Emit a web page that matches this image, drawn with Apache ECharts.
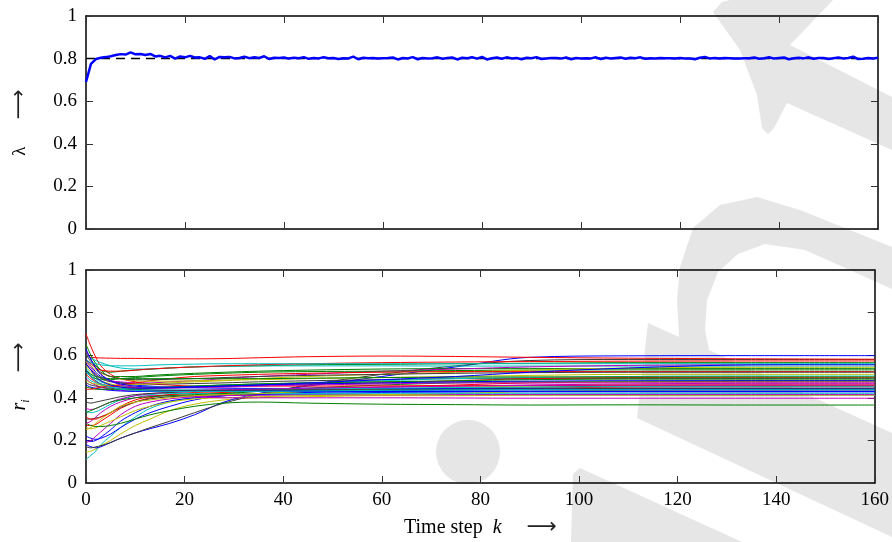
<!DOCTYPE html>
<html><head><meta charset="utf-8">
<script src="https://cdn.jsdelivr.net/npm/echarts@6/dist/echarts.min.js"></script>
<style>html,body{margin:0;padding:0;background:#fff}#c{width:892px;height:542px}</style>
</head><body><div id="c"></div>
<script>
// ---------- DATA ----------
const xTicks = [0, 20, 40, 60, 80, 100, 120, 140, 160];
const yTicks = [0, 0.2, 0.4, 0.6, 0.8, 1];
const lambdaTrue = 0.8;
const lambdaEst = [
.690,.775,.798,.804,.807,.811,.817,.821,.819,.829,
.820,.822,.817,.822,.810,.813,.806,.813,.800,.810,
.806,.813,.805,.806,.799,.812,.796,.808,.806,.808,
.801,.803,.809,.802,.806,.803,.811,.798,.804,.803,
.805,.800,.804,.802,.807,.799,.803,.801,.806,.802,
.803,.798,.802,.801,.809,.797,.804,.802,.803,.801,
.802,.803,.805,.796,.803,.801,.807,.797,.803,.801,
.802,.806,.799,.803,.805,.796,.804,.802,.806,.800,
.808,.796,.802,.805,.799,.806,.801,.803,.797,.804,
.802,.807,.798,.801,.803,.803,.800,.805,.797,.803,
.801,.802,.801,.806,.798,.804,.801,.803,.805,.799,
.804,.802,.806,.799,.802,.801,.803,.802,.802,.801,
.803,.800,.801,.797,.804,.808,.801,.803,.800,.803,
.802,.801,.801,.802,.802,.805,.799,.802,.806,.800,
.803,.805,.797,.802,.804,.801,.806,.799,.803,.803,
.798,.802,.805,.801,.803,.809,.798,.799,.803,.800,
.804];

// time steps at which each r_i trajectory was read
const rSteps = [0,1,2,3,5,7,10,13,17,22,28,35,45,60,75,90,110,135,160];
// low-start trajectories
const r01 = [.11,.13,.15,.18,.22,.26,.31,.35,.38,.40,.41,.413,.415,.415,.414,.414,.413,.413,.413];
const r02 = [.145,.15,.16,.175,.20,.23,.27,.30,.34,.37,.39,.40,.405,.41,.41,.412,.412,.412,.412];
const r03 = [.18,.17,.165,.17,.19,.21,.235,.255,.28,.32,.38,.42,.455,.50,.545,.59,.597,.598,.598];
const r04 = [.17,.165,.17,.175,.19,.21,.235,.26,.29,.33,.375,.415,.46,.51,.55,.575,.58,.58,.58];
const r05 = [.22,.21,.205,.21,.23,.26,.30,.33,.36,.39,.41,.42,.425,.43,.43,.43,.431,.43,.43];
const r06 = [.20,.195,.20,.215,.25,.29,.33,.36,.385,.40,.41,.415,.42,.425,.427,.428,.428,.428,.428];
const r07 = [.19,.20,.22,.24,.28,.32,.36,.38,.395,.405,.41,.412,.413,.414,.415,.415,.415,.415,.415];
const r08 = [.26,.255,.26,.27,.29,.31,.34,.36,.38,.395,.40,.405,.41,.415,.42,.43,.435,.437,.437];
const r09 = [.27,.27,.275,.29,.32,.35,.38,.40,.415,.425,.43,.433,.435,.437,.44,.445,.45,.452,.452];
const r10 = [.28,.27,.265,.265,.27,.28,.30,.32,.34,.36,.375,.38,.375,.37,.368,.366,.367,.366,.366];
const r11 = [.28,.29,.31,.33,.36,.38,.40,.41,.41,.405,.40,.40,.40,.40,.399,.398,.398,.398,.398];
const r12 = [.30,.30,.305,.31,.33,.355,.38,.395,.405,.41,.415,.42,.43,.44,.445,.45,.455,.457,.457];
const r13 = [.31,.30,.30,.31,.33,.36,.39,.405,.415,.42,.425,.43,.44,.45,.46,.47,.475,.477,.478];
const r14 = [.34,.33,.335,.345,.37,.39,.41,.415,.42,.42,.42,.42,.42,.421,.421,.421,.421,.421,.421];
const r15 = [.35,.345,.35,.36,.38,.395,.41,.42,.425,.43,.435,.44,.445,.45,.455,.46,.465,.468,.468];
const r16 = [.38,.375,.38,.385,.395,.405,.415,.42,.425,.43,.435,.44,.44,.44,.44,.44,.44,.44,.44];
const r17 = [.33,.34,.35,.36,.38,.39,.40,.405,.41,.415,.42,.43,.445,.46,.47,.475,.478,.48,.48];
const r18 = [.25,.26,.28,.30,.33,.36,.38,.39,.40,.41,.415,.42,.43,.44,.45,.455,.46,.46,.46];
// high / mid-start trajectories
const r19 = [.70,.64,.59,.55,.51,.49,.475,.465,.46,.455,.455,.455,.455,.456,.457,.458,.459,.46,.46];
const r20 = [.595,.59,.588,.587,.586,.585,.585,.584,.583,.583,.584,.588,.593,.596,.594,.59,.586,.583,.581];
const r21 = [.65,.60,.56,.53,.50,.50,.50,.505,.51,.515,.52,.525,.53,.535,.537,.537,.537,.537,.537];
const r22 = [.62,.58,.55,.53,.52,.525,.53,.535,.54,.545,.548,.55,.555,.557,.56,.562,.565,.565,.565];
const r23 = [.60,.585,.575,.565,.55,.54,.535,.535,.54,.545,.548,.55,.55,.55,.549,.549,.549,.549,.549];
const r24 = [.58,.55,.52,.50,.48,.47,.46,.455,.45,.447,.445,.444,.444,.444,.444,.444,.444,.444,.444];
const r25 = [.57,.54,.51,.495,.48,.475,.47,.47,.475,.48,.49,.50,.51,.525,.535,.545,.552,.555,.555];
const r26 = [.56,.53,.51,.49,.475,.47,.465,.465,.465,.467,.47,.475,.48,.485,.49,.49,.49,.49,.49];
const r27 = [.55,.52,.50,.48,.465,.455,.45,.45,.452,.455,.46,.465,.47,.475,.475,.475,.474,.474,.474];
const r28 = [.54,.51,.49,.475,.46,.455,.45,.45,.45,.455,.46,.465,.47,.48,.49,.495,.50,.502,.502];
const r29 = [.53,.50,.48,.465,.45,.44,.435,.433,.432,.432,.432,.433,.434,.435,.436,.437,.437,.437,.437];
const r30 = [.52,.50,.49,.485,.485,.49,.495,.50,.505,.51,.515,.52,.523,.525,.528,.53,.531,.531,.531];
const r31 = [.51,.49,.475,.465,.455,.45,.447,.446,.447,.45,.455,.46,.465,.47,.48,.49,.495,.496,.496];
const r32 = [.50,.48,.47,.46,.45,.445,.44,.438,.437,.437,.438,.44,.442,.445,.448,.45,.452,.452,.452];
const r33 = [.49,.47,.46,.45,.44,.435,.432,.432,.433,.435,.438,.44,.445,.45,.455,.458,.46,.46,.46];
const r34 = [.48,.47,.465,.46,.46,.46,.462,.465,.47,.475,.48,.49,.50,.51,.52,.53,.54,.543,.543];
const r35 = [.47,.46,.455,.45,.445,.44,.438,.436,.435,.435,.435,.436,.437,.438,.44,.442,.444,.445,.445];
const r36 = [.46,.45,.445,.44,.435,.432,.43,.43,.43,.43,.43,.43,.43,.43,.43,.43,.43,.43,.43];
const r37 = [.45,.445,.44,.44,.44,.44,.442,.445,.45,.455,.46,.465,.47,.475,.48,.485,.488,.488,.488];
const r38 = [.44,.44,.445,.45,.455,.46,.47,.48,.49,.50,.505,.51,.515,.52,.523,.523,.523,.523,.523];
const r39 = [.52,.50,.48,.465,.45,.44,.435,.432,.43,.43,.43,.43,.432,.435,.437,.438,.438,.438,.438];
const r40 = [.62,.58,.54,.51,.48,.46,.45,.445,.445,.448,.45,.455,.46,.465,.47,.47,.47,.47,.47];
const r41 = [.57,.55,.53,.515,.50,.49,.48,.478,.478,.48,.483,.485,.49,.495,.50,.505,.51,.51,.51];
const r42 = [.60,.57,.54,.52,.50,.49,.485,.485,.487,.49,.495,.50,.505,.51,.515,.518,.52,.52,.52];
const r43 = [.56,.53,.50,.48,.46,.45,.445,.445,.447,.45,.455,.46,.465,.47,.475,.478,.48,.48,.48];
const r44 = [.58,.56,.54,.53,.525,.525,.53,.535,.54,.545,.55,.555,.56,.565,.568,.57,.572,.573,.573];
const r45 = [.53,.51,.50,.495,.49,.49,.49,.49,.49,.49,.49,.49,.492,.495,.497,.498,.498,.498,.498];
const r46 = [.63,.58,.54,.51,.48,.465,.455,.45,.45,.452,.455,.46,.47,.485,.50,.52,.54,.555,.557];
const r47 = [.58,.565,.56,.555,.55,.55,.55,.553,.556,.558,.56,.56,.56,.56,.56,.56,.56,.56,.56];

const rLines = [r01,r02,r03,r04,r05,r06,r07,r08,r09,r10,r11,r12,r13,r14,r15,r16,r17,r18,
  r19,r20,r21,r22,r23,r24,r25,r26,r27,r28,r29,r30,r31,r32,r33,r34,r35,r36,r37,r38,r39,r40,
  r41,r42,r43,r44,r45,r46,r47];
const rColorKeys = ['c','y','b','k','b','b','m','y','r','g','m','k','r','c','m','k','g','y',
  'r','r','g','g','c','b','m','k','y','c','b','g','r','c','m','y','k','b','g','r','c','m',
  'y','k','b','r','g','b','c'];

// ---------- STYLE ----------
const palette = {b:'#0000ff', g:'#008000', r:'#ff0000', c:'#00bfbf', m:'#bf00bf', y:'#bfbf00', k:'#3a3a3a'};
const FONT = 'Liberation Serif';
const WM = '#e6e6e6';

const series = [];
series.push({type:'line', xAxisIndex:0, yAxisIndex:0, showSymbol:false, silent:true,
  data:[[xTicks[0], lambdaTrue],[xTicks[xTicks.length-1], lambdaTrue]],
  lineStyle:{color:'#000', width:1.5, type:[9,6]}, z:3});
series.push({type:'line', xAxisIndex:0, yAxisIndex:0, showSymbol:false, silent:true,
  data: lambdaEst.map((v,k)=>[k,v]),
  lineStyle:{color:'#0000ff', width:2.5}, z:4});
rLines.forEach((arr,i)=>{
  series.push({type:'line', xAxisIndex:2, yAxisIndex:2, showSymbol:false, silent:true,
    smooth:0.35, data: arr.map((v,j)=>[rSteps[j], v]),
    lineStyle:{color: palette[rColorKeys[i]], width:1}, z:3});
});

function xAx(grid, pos, labels, extra){
  return Object.assign({type:'value', gridIndex:grid, position:pos, min:0, max:160, interval:20,
    axisLine:{show:true, onZero:false, lineStyle:{color:'#000', width:1.5}},
    axisTick:{show:true, inside:true, length:7, lineStyle:{color:'#333', width:1}},
    axisLabel:{show:labels, color:'#000', fontFamily:FONT, fontSize:19, margin:8},
    splitLine:{show:false}}, extra||{});
}
function yAx(grid, pos, labels, extra){
  return Object.assign({type:'value', gridIndex:grid, position:pos, min:0, max:1, interval:0.2,
    axisLine:{show:true, onZero:false, lineStyle:{color:'#000', width:1.5}},
    axisTick:{show:true, inside:true, length:7, lineStyle:{color:'#333', width:1}},
    axisLabel:{show:labels, color:'#000', fontFamily:FONT, fontSize:19, margin:9,
      formatter:v=> (v===0?'0':(v===1?'1':v.toFixed(1)))},
    splitLine:{show:false}}, extra||{});
}
const arrowStyle = {fontFamily:'DejaVu Sans', fontSize:21, lineHeight:24, verticalAlign:'middle', color:'#222'};

const option = {
  animation:false,
  backgroundColor:'#fff',
  graphic:{elements:[
    {type:'polygon', z:-1, silent:true, shape:{points:[[713,12],[722,2],[730,0],[833,0],[790,45],[892,97],[892,150],[787,103],[774,128],[768,134],[762,128],[757,95],[740,50]]}, style:{fill:WM}},
    {type:'polygon', z:-1, silent:true, shape:{points:[[648,323],[679,337],[677,300],[680,267],[693,228],[720,205],[757,197],[800,210],[892,247],[892,289],[805,250],[765,244],[738,254],[718,272],[707,300],[705,330],[709,350],[892,433],[892,537],[637,418]]}, style:{fill:WM}},
    {type:'circle', z:-1, silent:true, shape:{cx:468, cy:452, r:32}, style:{fill:WM}},
    {type:'polygon', z:-1, silent:true, shape:{points:[[573,474],[580,468],[742,542],[571,542]]}, style:{fill:WM}}
  ]},
  grid:[
    {left:86, right:14, top:16, height:213},
    {left:86, right:14, top:270, height:213}
  ],
  xAxis:[
    xAx(0,'bottom',false),
    xAx(0,'top',false),
    xAx(1,'bottom',true,{name:'Time step  {k|k}     {a|⟶}', nameLocation:'middle', nameGap:33,
      nameTextStyle:{color:'#000', fontFamily:FONT, fontSize:20,
        rich:{k:{fontFamily:FONT, fontStyle:'italic', fontSize:20, lineHeight:24, verticalAlign:'middle'}, a:arrowStyle}}}),
    xAx(1,'top',false)
  ],
  yAxis:[
    yAx(0,'left',true,{name:'{l|λ}      {a|⟶}', nameLocation:'middle', nameGap:54, nameRotate:90,
      nameTextStyle:{color:'#000', fontFamily:FONT, fontSize:18,
        rich:{l:{fontFamily:FONT, fontSize:19, lineHeight:24, verticalAlign:'middle'}, a:arrowStyle}}}),
    yAx(0,'right',false),
    yAx(1,'left',true,{name:'{r|r}{s|i}      {a|⟶}', nameLocation:'middle', nameGap:54, nameRotate:90,
      nameTextStyle:{color:'#000', fontFamily:FONT, fontSize:18,
        rich:{r:{fontFamily:FONT, fontStyle:'italic', fontSize:20, lineHeight:24, verticalAlign:'middle'},
              s:{fontFamily:FONT, fontStyle:'italic', fontSize:12, lineHeight:12, verticalAlign:'bottom'},
              a:arrowStyle}}}),
    yAx(1,'right',false)
  ],
  series: series
};
const chart = echarts.init(document.getElementById('c'), null, {renderer:'canvas'});
chart.setOption(option);
</script>
</body></html>
